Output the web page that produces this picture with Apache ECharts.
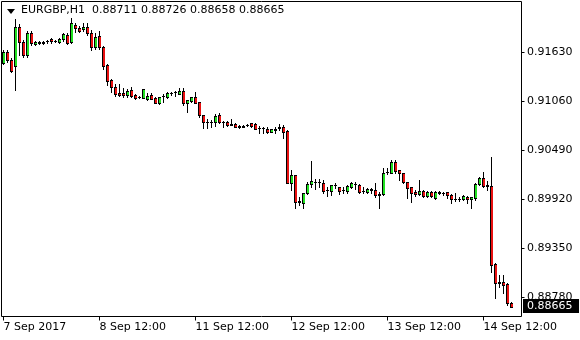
<!DOCTYPE html>
<html>
<head>
<meta charset="utf-8">
<script src="https://cdn.jsdelivr.net/npm/echarts@6/dist/echarts.min.js"></script>
<style>
html,body{margin:0;padding:0;background:#fff;}
#chart{width:580px;height:340px;}
</style>
</head>
<body>
<div id="chart"></div>
<script>
// ---- data (EURGBP H1) ----
const symbolTitle = 'EURGBP,H1  0.88711 0.88726 0.88658 0.88665';
const tickLabels = ['7 Sep 2017', '8 Sep 12:00', '11 Sep 12:00', '12 Sep 12:00', '13 Sep 12:00', '14 Sep 12:00'];
const tickIndex = [0, 24, 48, 72, 96, 120];
const yTicks = [0.91630, 0.91060, 0.90490, 0.89920, 0.89350, 0.88780];
const slotCount = 130;

const opens = [
0.91502,0.91630,0.91537,0.91467,0.91921,0.91746,0.91595,0.91851,0.91723,0.91746,
0.91740,0.91752,0.91781,0.91758,0.91746,0.91781,0.91828,0.91746,0.91944,0.91909,
0.91898,0.91921,0.91851,0.91688,0.91816,0.91688,0.91479,0.91304,0.91223,0.91153,
0.91153,0.91130,0.91188,0.91130,0.91107,0.91095,0.91083,0.91130,0.91095,0.91037,
0.91118,0.91107,0.91153,0.91159,0.91141,0.91176,0.91037,0.91060,0.91107,0.91048,
0.90897,0.90816,0.90810,0.90816,0.90897,0.90816,0.90816,0.90792,0.90792,0.90769,
0.90763,0.90775,0.90804,0.90792,0.90746,0.90740,0.90734,0.90699,0.90734,0.90746,
0.90758,0.90711,0.90106,0.90199,0.89897,0.89873,0.89990,0.90095,0.90118,0.90112,
0.90106,0.90025,0.90013,0.90083,0.90060,0.90025,0.90013,0.90060,0.90095,0.90083,
0.90013,0.90001,0.90036,0.90025,0.89978,0.89978,0.90234,0.90222,0.90350,0.90257,
0.90222,0.90118,0.90060,0.90001,0.89978,0.90013,0.89955,0.90001,0.89932,0.90001,
0.89990,0.90001,0.89967,0.89920,0.89914,0.89920,0.89943,0.89920,0.89932,0.90095,
0.90164,0.90071,0.90071,0.89164,0.88943,0.88955,0.88931,0.88711
];
const closes = [
0.91630,0.91537,0.91409,0.91921,0.91746,0.91595,0.91851,0.91735,0.91746,0.91740,
0.91746,0.91758,0.91758,0.91752,0.91781,0.91839,0.91735,0.91967,0.91909,0.91874,
0.91921,0.91851,0.91688,0.91805,0.91688,0.91467,0.91293,0.91223,0.91141,0.91130,
0.91130,0.91176,0.91118,0.91095,0.91101,0.91200,0.91118,0.91083,0.91037,0.91107,
0.91112,0.91153,0.91147,0.91165,0.91176,0.91037,0.91072,0.91107,0.91037,0.90897,
0.90816,0.90810,0.90816,0.90886,0.90816,0.90810,0.90781,0.90786,0.90758,0.90763,
0.90769,0.90781,0.90769,0.90734,0.90740,0.90746,0.90699,0.90734,0.90728,0.90758,
0.90699,0.90106,0.90199,0.89885,0.89890,0.89990,0.90095,0.90129,0.90112,0.90118,
0.90013,0.90019,0.90083,0.90077,0.90013,0.90019,0.90071,0.90106,0.90089,0.90001,
0.90007,0.90036,0.90030,0.89967,0.89972,0.90222,0.90228,0.90350,0.90246,0.90222,
0.90118,0.90048,0.89990,0.89978,0.90013,0.89955,0.90001,0.89955,0.90001,0.89995,
0.89984,0.89967,0.89920,0.89914,0.89920,0.89955,0.89920,0.89943,0.90095,0.90164,
0.90071,0.90077,0.89152,0.88943,0.88949,0.88920,0.88710,0.88665
];
const lows = [
0.91490,0.91514,0.91397,0.91188,0.91595,0.91572,0.91572,0.91711,0.91711,0.91723,
0.91723,0.91735,0.91735,0.91746,0.91735,0.91758,0.91723,0.91735,0.91863,0.91863,
0.91874,0.91828,0.91653,0.91665,0.91665,0.91432,0.91246,0.91165,0.91118,0.91118,
0.91107,0.91107,0.91107,0.91083,0.91095,0.91095,0.91072,0.91083,0.91037,0.91025,
0.91048,0.91095,0.91130,0.91118,0.91141,0.91013,0.90932,0.91048,0.91037,0.90874,
0.90746,0.90746,0.90758,0.90769,0.90804,0.90758,0.90769,0.90781,0.90758,0.90746,
0.90758,0.90769,0.90758,0.90734,0.90688,0.90688,0.90688,0.90699,0.90688,0.90723,
0.90630,0.90106,0.90025,0.89815,0.89850,0.89815,0.89978,0.90060,0.90036,0.90060,
0.89990,0.89955,0.89967,0.90048,0.89978,0.89990,0.89990,0.90048,0.90036,0.89990,
0.89990,0.89990,0.89990,0.89943,0.89815,0.89967,0.90211,0.90222,0.90222,0.90141,
0.90106,0.89932,0.89885,0.89955,0.89967,0.89943,0.89943,0.89943,0.89920,0.89978,
0.89967,0.89932,0.89873,0.89897,0.89897,0.89908,0.89873,0.89815,0.89908,0.90083,
0.90060,0.90025,0.89071,0.88768,0.88896,0.88827,0.88687,0.88658
];
const highs = [
0.91653,0.91653,0.91560,0.92014,0.91956,0.91770,0.91874,0.91874,0.91758,0.91758,
0.91758,0.91770,0.91793,0.91770,0.91793,0.91851,0.91851,0.92026,0.91967,0.91932,
0.91967,0.91967,0.91886,0.91851,0.91874,0.91700,0.91490,0.91316,0.91258,0.91258,
0.91211,0.91200,0.91223,0.91141,0.91118,0.91200,0.91153,0.91153,0.91107,0.91107,
0.91141,0.91165,0.91165,0.91176,0.91211,0.91211,0.91072,0.91107,0.91165,0.91048,
0.90897,0.90851,0.90839,0.90909,0.90920,0.90827,0.90827,0.90851,0.90804,0.90781,
0.90781,0.90792,0.90804,0.90804,0.90769,0.90758,0.90758,0.90734,0.90758,0.90792,
0.90781,0.90723,0.90257,0.90199,0.89943,0.89990,0.90118,0.90362,0.90153,0.90153,
0.90141,0.90060,0.90083,0.90106,0.90060,0.90060,0.90083,0.90118,0.90118,0.90095,
0.90060,0.90048,0.90048,0.90106,0.90001,0.90281,0.90281,0.90374,0.90374,0.90257,
0.90222,0.90118,0.90060,0.90025,0.90141,0.90025,0.90013,0.90013,0.90013,0.90013,
0.90001,0.90001,0.89978,0.89990,0.89943,0.89967,0.89955,0.89943,0.90106,0.90176,
0.90234,0.90129,0.90409,0.89176,0.89036,0.89036,0.88943,0.88726
];

// ---- build ----
const categories = [];
for (let i = 0; i < slotCount; i++) categories.push(String(i));
const candleRows = opens.map((o, i) => [i, o, closes[i], lows[i], highs[i]]);
const lastClose = closes[closes.length - 1];
const FONT = 'DejaVu Sans';
const BULL = '#22e022', BEAR = '#e81010', INK = '#000000';
const isTick = (i) => tickIndex.indexOf(i) !== -1;

function renderCandle(params, api) {
  const k = api.value(0);
  const o = api.value(1), c = api.value(2), l = api.value(3), h = api.value(4);
  const pO = api.coord([k, o]), pC = api.coord([k, c]);
  const pL = api.coord([k, l]), pH = api.coord([k, h]);
  const cx = Math.floor(pO[0]) + 0.5;
  const yH = Math.round(pH[1]), yL = Math.round(pL[1]);
  const top = Math.round(Math.min(pO[1], pC[1]));
  const bot = Math.round(Math.max(pO[1], pC[1]));
  const children = [{
    type: 'line',
    shape: {x1: cx, y1: yH, x2: cx, y2: yL + 1},
    style: {stroke: INK, lineWidth: 1}
  }];
  if (bot - top < 1) {
    children.push({
      type: 'rect',
      shape: {x: cx - 1.5, y: top, width: 3, height: 1},
      style: {fill: INK}
    });
  } else {
    children.push({
      type: 'rect',
      shape: {x: cx - 1.5, y: top, width: 3, height: bot - top + 1},
      style: {fill: INK}
    });
    if (bot - top >= 2) {
      children.push({
        type: 'rect',
        shape: {x: cx - 0.5, y: top + 1, width: 2, height: bot - top - 1},
        style: {fill: c >= o ? BULL : BEAR}
      });
    }
  }
  return {type: 'group', children: children};
}

const chart = echarts.init(document.getElementById('chart'), null, {renderer: 'canvas'});
chart.setOption({
  animation: false,
  backgroundColor: '#ffffff',
  title: {
    text: symbolTitle,
    left: 21, top: 5,
    padding: 0,
    textStyle: {fontFamily: FONT, fontSize: 11, fontWeight: 'normal', color: '#000'}
  },
  grid: {
    left: 1.5, right: 58.5, top: 1.5, bottom: 23.5,
    show: true, borderColor: '#000', borderWidth: 1, backgroundColor: 'transparent'
  },
  xAxis: {
    type: 'category',
    data: categories,
    boundaryGap: true,
    axisLine: {show: false},
    axisTick: {show: true, alignWithLabel: true, interval: (i) => isTick(i), length: 4, lineStyle: {color: '#000'}},
    axisLabel: {
      interval: (i) => isTick(i),
      formatter: (v) => tickLabels[tickIndex.indexOf(Number(v))] || '',
      align: 'left', margin: 5,
      fontFamily: FONT, fontSize: 11, color: '#000'
    },
    splitLine: {show: false}
  },
  yAxis: {
    type: 'value',
    position: 'right',
    min: 0.88553, max: 0.92217,
    scale: true,
    axisLine: {show: false},
    axisTick: {show: true, length: 3, customValues: yTicks, lineStyle: {color: '#000'}},
    axisLabel: {
      customValues: yTicks,
      formatter: (v) => Number(v).toFixed(5),
      margin: 5.5, align: 'left',
      fontFamily: FONT, fontSize: 11, color: '#000'
    },
    splitLine: {show: false}
  },
  series: [{
    type: 'custom',
    renderItem: renderCandle,
    data: candleRows,
    encode: {x: 0, y: [1, 2, 3, 4]},
    clip: true
  }]
});

// last price box on the price scale, positioned through the axis scale
const py = chart.convertToPixel({yAxisIndex: 0}, lastClose);
chart.setOption({
  graphic: [
    {
      type: 'polygon',
      shape: {points: [[7, 9], [15, 9], [11, 14]]},
      style: {fill: '#000'}
    },
    {
      type: 'rect', z: 100,
      shape: {x: 523, y: Math.round(py) - 8, width: 56, height: 14},
      style: {fill: '#000'}
    },
    {
      type: 'text', z: 101,
      x: 527, y: Math.round(py) - 1,
      style: {text: lastClose.toFixed(5), fill: '#fff', font: '11px "DejaVu Sans"', verticalAlign: 'middle', align: 'left'}
    }
  ]
});
</script>
</body>
</html>
